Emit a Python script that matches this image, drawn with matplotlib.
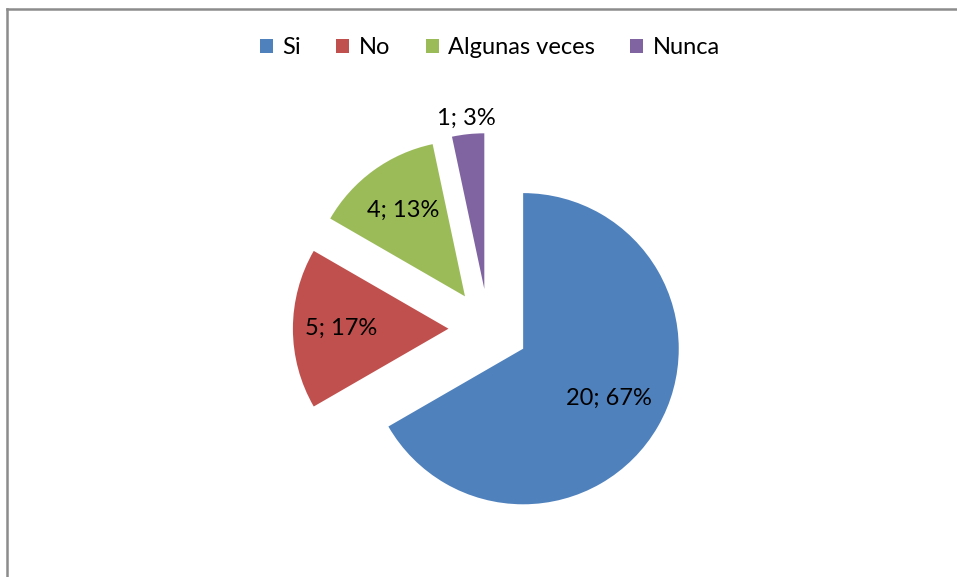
import numpy as np
import matplotlib
matplotlib.use("Agg")
import matplotlib.pyplot as plt
from matplotlib.lines import Line2D

# datos
categorias = ["Si", "No", "Algunas veces", "Nunca"]
valores = [20, 5, 4, 1]
colores = ["#4F81BD", "#C0504D", "#9BBB59", "#8064A2"]

W, H = 957, 577
plt.rcParams['font.family'] = ['Lato', 'DejaVu Sans']

fig = plt.figure(figsize=(W / 100, H / 100), dpi=100)
ax = fig.add_axes([0, 0, 1, 1])

# tarta con todos los sectores separados
radio = 155.6
centro = (488.5, H - 328.7)
wedges, _ = ax.pie(valores, colors=colores, startangle=90, counterclock=False,
                   radius=radio, center=centro, explode=[40, 40, 40, 40],
                   wedgeprops=dict(linewidth=0))
ax.set_xlim(0, W)
ax.set_ylim(0, H)
ax.set_aspect('equal')
ax.axis('off')

# etiquetas "valor; porcentaje"
total = sum(valores)
dist = [0.64, 0.69, 0.68, 1.1]
for w, v, d in zip(wedges, valores, dist):
    mid = np.deg2rad((w.theta1 + w.theta2) / 2)
    cx, cy = w.center
    x = cx + d * w.r * np.cos(mid)
    y = cy + d * w.r * np.sin(mid)
    ax.text(x, y, f"{v}; {round(100 * v / total)}%", ha='center', va='center',
            fontsize=17, color='black')

# leyenda
fig.legend(wedges, categorias, loc='center', bbox_to_anchor=(490 / W, 1 - 48 / H),
           ncol=4, frameon=False, fontsize=17, handlelength=0.55, handleheight=0.55,
           handletextpad=0.4, columnspacing=1.5)

# borde del area del grafico
gris = "#8C8C8C"
fig.add_artist(Line2D([7.5 / W, 7.5 / W], [0, 1 - 8.5 / H], transform=fig.transFigure,
                      color=gris, lw=1.8))
fig.add_artist(Line2D([7.5 / W, 1], [1 - 8.5 / H, 1 - 8.5 / H], transform=fig.transFigure,
                      color=gris, lw=1.8))

fig.savefig("out.png", dpi=100, facecolor='white')
